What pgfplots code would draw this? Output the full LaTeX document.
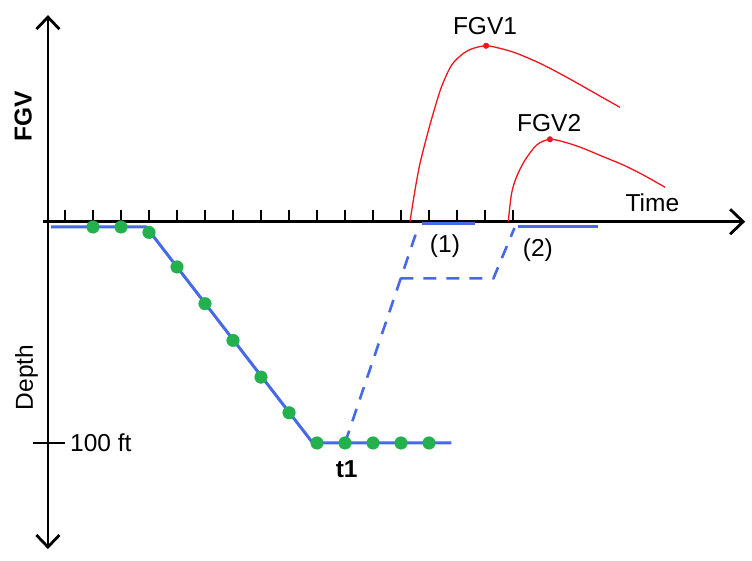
\documentclass[border=0pt]{standalone}
\usepackage{pgfplots}
\pgfplotsset{compat=1.18}
\usepackage{fontspec}
\setmainfont{Liberation Sans}
\usetikzlibrary{arrows.meta}

\definecolor{diveblue}{RGB}{70,105,230}
\definecolor{stopgreen}{RGB}{34,177,76}
\definecolor{fgvred}{RGB}{240,20,30}

\begin{document}
\begin{tikzpicture}[
  lbl/.style={font=\fontsize{24.5}{29}\selectfont, inner sep=0pt},
  barb/.style={line width=2.8pt, line cap=round,
    arrows={Straight Barb[length=12pt,width=23pt]-Straight Barb[length=12pt,width=23pt]}},
]
\begin{axis}[
  scale only axis, width=752pt, height=560pt,
  xmin=-1.3214, xmax=25.5357, ymin=-154.17, ymax=105.09,
  axis lines=none, clip=false,
]
\path (rel axis cs:0,0) rectangle (rel axis cs:1,1);

% axes: time to the right, FGV up, depth down
\draw[line width=2.8pt, -{Straight Barb[length=13pt,width=25pt]}]
  (axis cs:0.21,2.45) -- (axis cs:25.29,2.45);
\draw[barb] (axis cs:0.39,-149.1) -- (axis cs:0.39,98.1);
\pgfplotsinvokeforeach{1,...,17}{
  \draw[line width=2.4pt] (axis cs:#1,2.45) -- (axis cs:#1,8.0);
}
\draw[line width=2pt] (axis cs:-0.143,-100) -- (axis cs:1.0,-100);

% planned ascents
\addplot[diveblue, line width=2.6pt, dash pattern=on 13pt off 10pt]
  coordinates {(11,-100) (13.6,-0.5)};
\addplot[diveblue, line width=2.6pt, dash pattern=on 13pt off 10pt]
  coordinates {(12.98,-23.8) (16.3,-23.8) (17.05,-0.5)};
\addplot[diveblue, line width=3pt] coordinates {(13.75,1.5) (15.65,1.5)};
\addplot[diveblue, line width=3pt] coordinates {(17.19,0) (20.05,0)};

% dive profile
\addplot[diveblue, line width=3pt]
  coordinates {(0.5,0) (3.9,0) (9.85,-100) (14.8,-100)};
\addplot[only marks, mark=*, mark size=6.3pt, color=stopgreen,
  mark options={fill=stopgreen, draw=stopgreen}]
  coordinates {(2,0) (3,0) (4,-2.5) (5,-18.5) (6,-35.5) (7,-52.5)
    (8,-69.5) (9,-86) (10,-100) (11,-100) (12,-100) (13,-100) (14,-100)};

% FGV curves
\addplot[fgvred, line width=1.3pt, smooth, tension=0.5] coordinates {
  (13.32,2.45) (13.50,17.1) (13.68,29.5) (13.92,41.8) (14.15,52.6)
  (14.45,65.0) (14.81,75.0) (15.23,80.4) (15.58,82.7) (16.04,83.9)
  (16.54,82.7) (17.13,80.4) (17.96,75.8) (18.68,71.0) (19.39,65.9)
  (20.11,60.6) (20.82,55.4)};
\addplot[fgvred, line width=1.3pt, smooth, tension=0.5] coordinates {
  (16.83,2.45) (16.95,15.6) (17.13,23.3) (17.43,31.0) (17.85,38.0)
  (18.32,40.6) (18.92,39.0) (19.51,36.4) (20.23,32.5) (20.94,28.7)
  (21.65,24.1) (22.43,18.4)};
\addplot[only marks, mark=*, mark size=2.8pt, color=fgvred]
  coordinates {(16.04,83.9) (18.32,40.6)};

% labels
\node[lbl, anchor=base] at (axis cs:16.0,88.9) {FGV1};
\node[lbl, anchor=base] at (axis cs:18.29,44.1) {FGV2};
\node[lbl, anchor=base] at (axis cs:21.98,7.1) {Time};
\node[lbl] at (axis cs:14.57,-9.1) {(1)};
\node[lbl] at (axis cs:17.89,-10.6) {(2)};
\node[lbl, anchor=base, font=\fontsize{24.5}{29}\selectfont\bfseries] at (axis cs:11.06,-116.2) {t1};
\node[lbl, anchor=base west] at (axis cs:1.18,-104.0) {100 ft};
\node[lbl, anchor=base, rotate=90] at (axis cs:-0.143,-69.7) {Depth};
\node[lbl, anchor=base, rotate=90, font=\fontsize{24.5}{29}\selectfont\bfseries] at (axis cs:-0.19,51.1) {FGV};
\end{axis}
\end{tikzpicture}
\end{document}
